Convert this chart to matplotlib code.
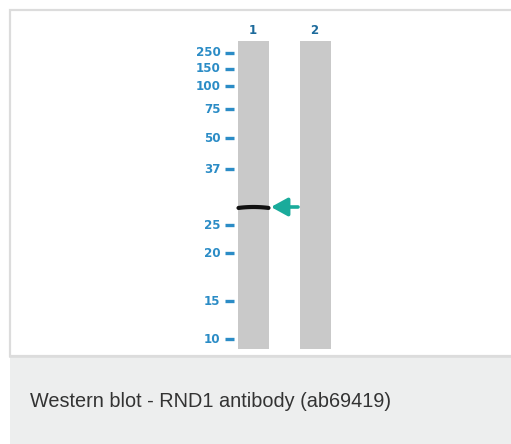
import matplotlib
matplotlib.use("Agg")
import matplotlib.pyplot as plt
from matplotlib.patches import Rectangle
import numpy as np

# ---- data ----
marker_labels = ['250', '150', '100', '75', '50', '37', '25', '20', '15', '10']
marker_pos = [53, 69, 86, 109, 138, 169, 225, 253, 301, 339]   # migration (px from top)
lane_labels = ['1', '2']
lane_centers = [253.5, 315.5]
band_lane = [0]
band_pos = [207]
caption = "Western blot - RND1 antibody (ab69419)"

W, H = 511, 444
fig = plt.figure(figsize=(W / 100, H / 100), dpi=100)
ax = fig.add_axes([0, 0, 1, 1])
ax.set_xlim(0, W)
ax.set_ylim(H, 0)
ax.axis('off')

# panel and caption background
ax.add_patch(Rectangle((10, 10), W, 346, facecolor='white', edgecolor='#dcdcdc', lw=1.6))
ax.add_patch(Rectangle((10, 357), W, H - 357, facecolor='#edeeee', edgecolor='none'))
ax.plot([10, W], [356.5, 356.5], color='#dcdcdc', lw=1.2)

lane_w = 31
lane_top, lane_bot = 41, 349
for c, lab in zip(lane_centers, lane_labels):
    ax.add_patch(Rectangle((c - lane_w / 2, lane_top), lane_w, lane_bot - lane_top,
                           facecolor='#c9c9c9', edgecolor='none'))
    ax.text(c - 1, 30.5, lab, ha='center', va='center', fontsize=8.5, fontweight='bold',
            color='#1d6b9c', family='DejaVu Sans')

# markers
for lab, y in zip(marker_labels, marker_pos):
    ax.plot([225, 234], [y, y], color='#2b8cc6', lw=2.4, solid_capstyle='butt')
    ax.text(220.5, y, lab, ha='right', va='center', fontsize=8.6, fontweight='bold',
            color='#2b8cc6', family='DejaVu Sans')

# band(s)
for li, y in zip(band_lane, band_pos):
    c = lane_centers[li]
    xs = np.linspace(c - lane_w / 2 + 0.5, c + lane_w / 2 - 0.5, 40)
    t = (xs - c) / (lane_w / 2)
    ys = y + 1.0 * t ** 2
    ax.plot(xs, ys, color='#111111', lw=3.0, solid_capstyle='round')
    # arrow
    ax.annotate('', xy=(c + lane_w / 2 + 2, y), xytext=(c + lane_w / 2 + 29, y),
                arrowprops=dict(arrowstyle='-|>,head_length=1.0,head_width=0.55',
                                color='#1aab9b', lw=2.6, shrinkA=0, shrinkB=0))

ax.text(30, 401, caption, ha='left', va='center', fontsize=14.3,
        color='#333333', family='Liberation Sans')

fig.savefig('out.png', dpi=100)
